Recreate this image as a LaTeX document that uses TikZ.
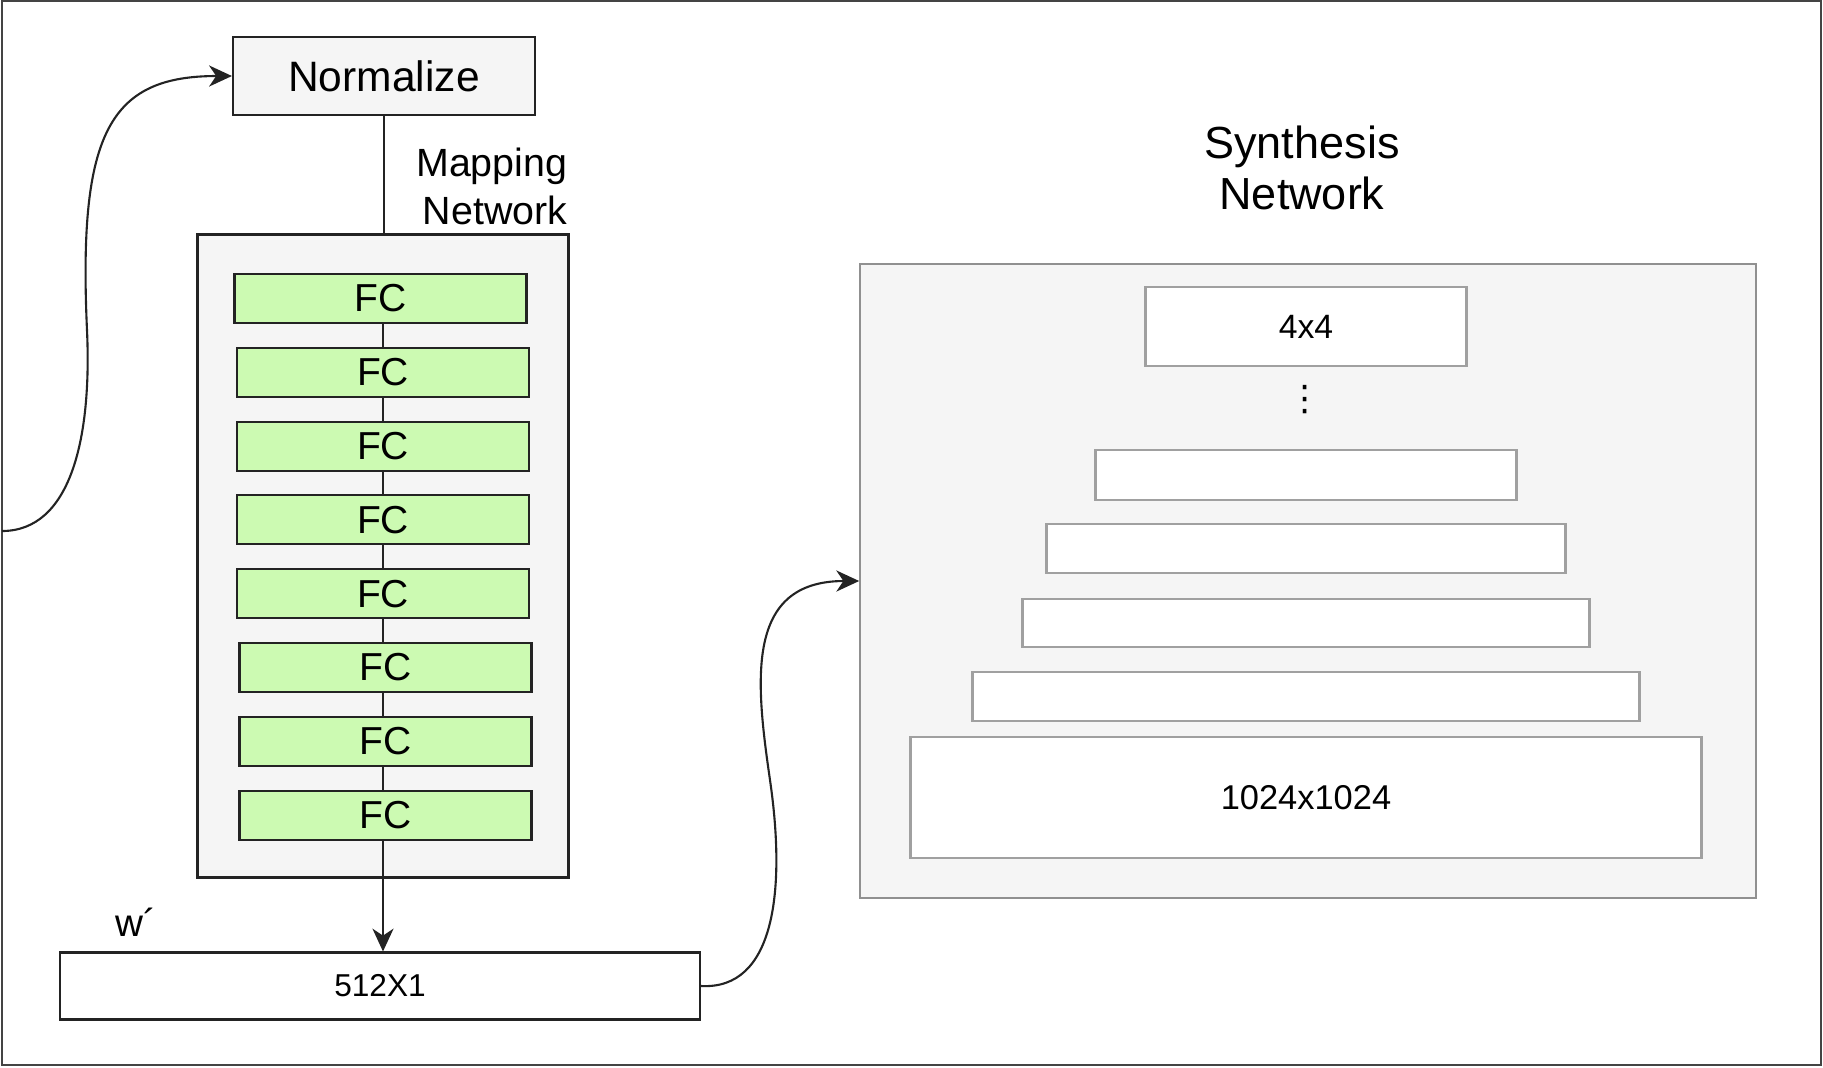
\documentclass[tikz,border=0pt]{standalone}
\usepackage{tikz}
\usepackage{fontspec}
\setmainfont{Liberation Sans}
\newfontfamily\dotsfont{DejaVu Sans}
\usetikzlibrary{arrows.meta}
\definecolor{panelgray}{RGB}{245,245,245}
\definecolor{fcgreen}{RGB}{204,250,178}
\definecolor{darkline}{RGB}{35,35,35}
\definecolor{lightline}{RGB}{160,160,160}

\begin{document}
\begin{tikzpicture}[
		box/.style={draw=darkline,line width=0.6pt,inner sep=0pt},
		fcbox/.style={box,fill=fcgreen,minimum width=2.92cm,minimum height=0.49cm,font=\fontsize{11.1}{13}\selectfont},
		layerbox/.style={draw=lightline,line width=0.6pt,fill=white,inner sep=0pt},
		link/.style={draw=darkline,line width=0.6pt},
		arrowlink/.style={link,-{Stealth[length=6.5pt,width=6pt,inset=2pt]}}
	]
			\useasboundingbox (0,0) rectangle (18.23,-10.67);
			\draw[darkline!85,line width=0.6pt] (0.02,-0.01) rectangle (18.21,-10.65);
			\coordinate (c_norm) at (3.84,-0.76);
			\coordinate (c_map) at (3.83,-5.56);
			\coordinate (c_out) at (3.80,-9.86);
			\coordinate (c_syn) at (13.08,-5.81);
			\coordinate (l_start) at (0.02,-5.31);
			\coordinate (l_mid) at (0.87,-3.3);
			\coordinate (r_mid) at (7.70,-7.8);
			% mapping side
			\node[box,fill=panelgray,minimum width=3.02cm,minimum height=0.78cm,font=\fontsize{12.1}{14}\selectfont] (norm) at (c_norm) {Normalize};
			\node[box,fill=panelgray,minimum width=3.71cm,minimum height=6.43cm] (map) at (c_map) {};
			\node[anchor=east,align=right,inner sep=0pt,font=\fontsize{11.2}{13.6}\selectfont] (maplabel) at (5.68,-1.864) {Mapping\\Network};
			\node[fcbox] (fc1) at (3.805,-2.985) {FC};
			\node[fcbox] (fc2) at (3.83,-3.723) {FC};
			\node[fcbox] (fc3) at (3.83,-4.461) {FC};
			\node[fcbox] (fc4) at (3.83,-5.199) {FC};
			\node[fcbox] (fc5) at (3.83,-5.937) {FC};
			\node[fcbox] (fc6) at (3.855,-6.675) {FC};
			\node[fcbox] (fc7) at (3.855,-7.413) {FC};
			\node[fcbox] (fc8) at (3.855,-8.151) {FC};
			\node[box,fill=white,minimum width=6.40cm,minimum height=0.67cm,font=\fontsize{9}{11}\selectfont] (out) at (c_out) {512X1};
			\node[inner sep=0pt,font=\fontsize{11}{13}\selectfont] (wlabel) at (1.36,-9.22) {w´};
			% synthesis side
			\node[inner sep=0pt,align=center,font=\fontsize{12.8}{14.5}\selectfont] (synlabel) at (13.02,-1.682) {Synthesis\\Network};
			\node[draw=lightline!90!black,line width=0.6pt,fill=panelgray,minimum width=8.955cm,minimum height=6.335cm] (syn) at (c_syn) {};
			\node[layerbox,minimum width=3.21cm,minimum height=0.79cm,font=\fontsize{9.6}{11}\selectfont] (l4) at (13.06,-3.265) {4x4};
			\node[inner sep=0pt,font=\dotsfont\fontsize{10}{11}\selectfont] (dots) at (13.05,-4.0) {⋮};
			\node[layerbox,minimum width=4.21cm,minimum height=0.50cm] (la) at (13.06,-4.75) {};
			\node[layerbox,minimum width=5.19cm,minimum height=0.49cm] (lb) at (13.06,-5.485) {};
			\node[layerbox,minimum width=5.67cm,minimum height=0.485cm] (lc) at (13.06,-6.23) {};
			\node[layerbox,minimum width=6.67cm,minimum height=0.49cm] (ld) at (13.06,-6.965) {};
			\node[layerbox,minimum width=7.91cm,minimum height=1.21cm,font=\fontsize{9.8}{11}\selectfont] (l1024) at (13.06,-7.975) {1024x1024};
			% connectors
			\draw[link] (norm.south) -- (norm.south |- map.north);
			\draw[link] (fc1.south -| map.north) -- (fc2.north -| map.north);
			\draw[link] (fc2.south -| map.north) -- (fc3.north -| map.north);
			\draw[link] (fc3.south -| map.north) -- (fc4.north -| map.north);
			\draw[link] (fc4.south -| map.north) -- (fc5.north -| map.north);
			\draw[link] (fc5.south -| map.north) -- (fc6.north -| map.north);
			\draw[link] (fc6.south -| map.north) -- (fc7.north -| map.north);
			\draw[link] (fc7.south -| map.north) -- (fc8.north -| map.north);
			\draw[arrowlink] (fc8.south -| map.north) -- (out.north -| map.north);
			\draw[arrowlink] (l_start) .. controls (0.7,-5.31) and (0.92,-4.4) .. (l_mid) .. controls (0.78,-1.32) and (1.1,-0.76) .. (norm.west);
			\draw[arrowlink] (out.east) .. controls (7.75,-9.9) and (7.86,-8.9) .. (r_mid) .. controls (7.555,-6.8) and (7.45,-5.81) .. (syn.west);
		\end{tikzpicture}
\end{document}
